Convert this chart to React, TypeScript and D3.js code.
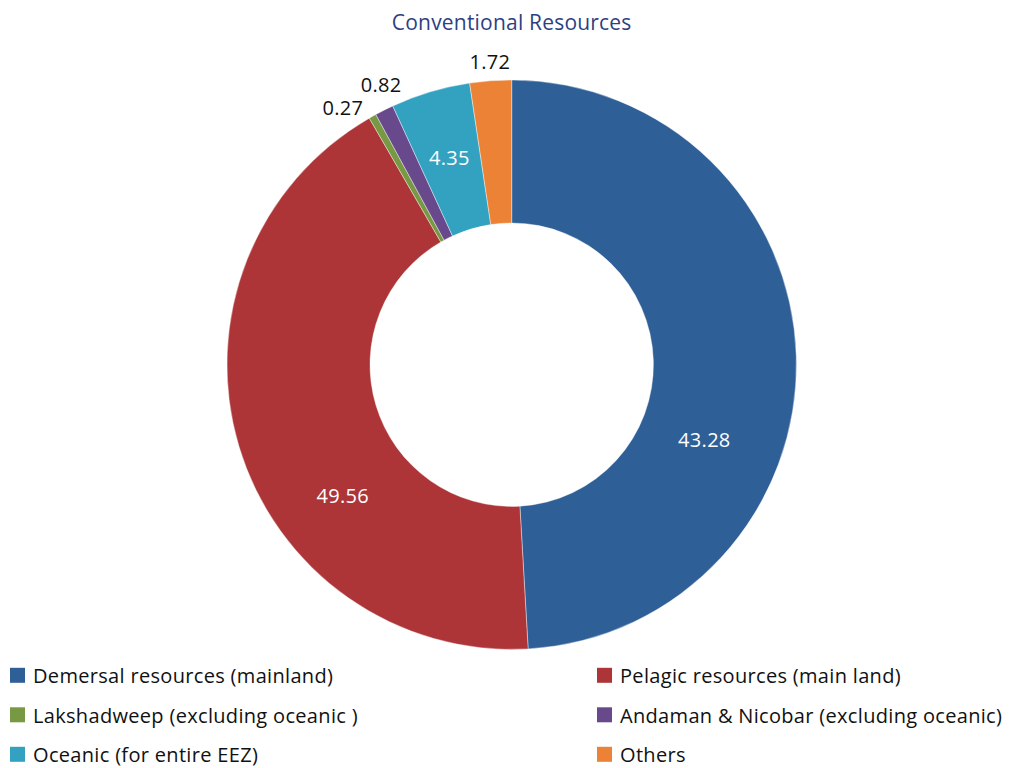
import React from "react";
import * as d3 from "d3";

const categories = [
  "Demersal resources (mainland)",
  "Pelagic resources (main land)",
  "Lakshadweep (excluding oceanic )",
  "Andaman & Nicobar (excluding oceanic)",
  "Oceanic (for entire EEZ)",
  "Others",
];
// numbers printed on the chart
const valueLabels = ["43.28", "49.56", "0.27", "0.82", "4.35", "1.72"];
// slice shares as drawn in the picture (%)
const sliceShares = [49.1, 42.6, 0.42, 1.06, 4.5, 2.36];
const colors = ["#2e5f97", "#ad3537", "#779944", "#684a8c", "#33a2c0", "#ec8235"];

// label layout: angle shift (deg) from slice middle, radius, inside (white) or outside (black)
const labelLayout = [
  { shift: 23.1, r: 207, inside: true },
  { shift: -21.2, r: 214, inside: true },
  { shift: -4.1, r: 307, inside: false },
  { shift: 1.6, r: 309, inside: false },
  { shift: -0.2, r: 216, inside: true },
  { shift: 0.1, r: 303, inside: false },
];

const W = 1022;
const H = 768;
const cx = 511.7;
const cy = 364.7;
const outerR = 284.7;
const innerR = 141.7;
const FONT = "'Open Sans', 'Noto Sans', sans-serif";

export default function App() {
  const pie = d3
    .pie<number>()
    .sort(null)
    .value((d) => d)
    .startAngle(0)
    .endAngle(2 * Math.PI);
  const arcs = pie(sliceShares);
  const arcGen = d3.arc<d3.PieArcDatum<number>>().innerRadius(innerR).outerRadius(outerR);

  const rowBaseline = d3.scaleLinear().domain([0, 1]).range([683, 722.5]);
  const legendCols = d3.scaleOrdinal<number, number>().domain([0, 1]).range([10, 597]);

  return (
    <svg
      width={W}
      height={H}
      style={{ position: "absolute", left: 0, top: 0, background: "#fff" }}
      fontFamily={FONT}
    >
      <text x={cx} y={30} textAnchor="middle" fontSize={21} letterSpacing={0.2} fill="#2e3f82">
        Conventional Resources
      </text>
      <g transform={`translate(${cx},${cy})`}>
        {arcs.map((a, i) => (
          <path key={i} d={arcGen(a) || ""} fill={colors[i]} stroke="#fff" strokeWidth={0.4} />
        ))}
        {arcs.map((a, i) => {
          const lay = labelLayout[i];
          const mid = (a.startAngle + a.endAngle) / 2 + (lay.shift * Math.PI) / 180;
          const x = Math.sin(mid) * lay.r;
          const y = -Math.cos(mid) * lay.r;
          return (
            <text
              key={"l" + i}
              x={x}
              y={y}
              dy="0.35em"
              textAnchor="middle"
              fontSize={20}
              letterSpacing={0.3}
              fill={lay.inside ? "#ffffff" : "#111111"}
            >
              {valueLabels[i]}
            </text>
          );
        })}
      </g>
      <g>
        {categories.map((c, i) => {
          const row = Math.floor(i / 2);
          const col = i % 2;
          const x = legendCols(col);
          const base = rowBaseline(row);
          return (
            <g key={"lg" + i}>
              <rect x={x} y={base - 15.2} width={15} height={15} fill={colors[i]} />
              <text x={x + 23} y={base} fontSize={20} letterSpacing={0.32} fill="#111">
                {c}
              </text>
            </g>
          );
        })}
      </g>
    </svg>
  );
}
